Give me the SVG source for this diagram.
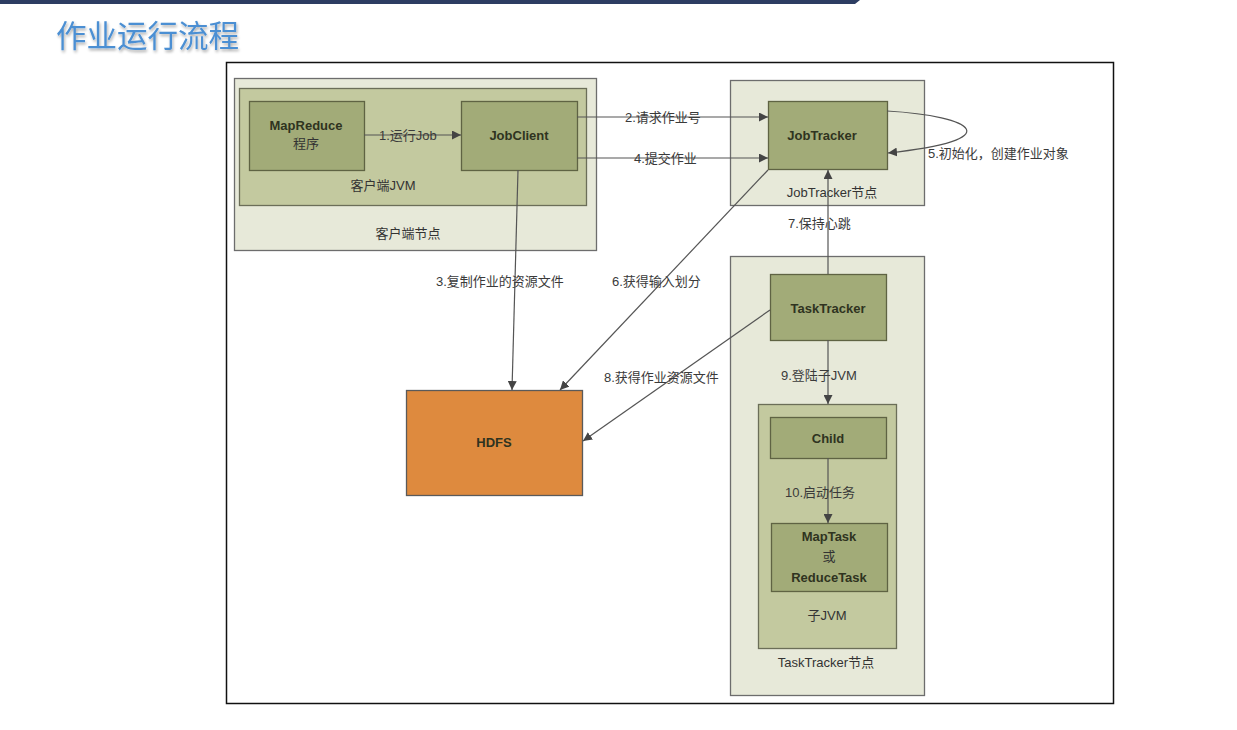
<svg xmlns="http://www.w3.org/2000/svg" width="1237" height="730" viewBox="0 0 1237 730">
  <style>
    .t { font-family: "Liberation Sans", "Noto Sans CJK SC", sans-serif; font-size: 13px; fill: #333; }
    .b { font-weight: bold; fill: #2f3320; }
    .tc { text-anchor: middle; }
    .lbl { font-family: "Liberation Sans", "Noto Sans CJK SC", sans-serif; font-size: 13px; fill: #3a3a3a; }
    .outer { fill: #e7e9d9; stroke: #6d6d6d; stroke-width: 1.3; }
    .jvm { fill: #c3c99f; stroke: #6b6e58; stroke-width: 1.3; }
    .box { fill: #a2ab78; stroke: #5f6343; stroke-width: 1.3; }
    .edge { fill: none; stroke: #555; stroke-width: 1.2; }
  </style>
  <defs>
    <marker id="arr" viewBox="0 0 10 10" refX="10" refY="5" markerWidth="9" markerHeight="9" markerUnits="userSpaceOnUse" orient="auto">
      <path d="M0,0 L10,5 L0,10 z" fill="#444"/>
    </marker>
    <filter id="soft" x="-5%" y="-20%" width="110%" height="140%">
      <feGaussianBlur in="SourceAlpha" stdDeviation="1.5"/>
      <feOffset dx="1" dy="2"/>
      <feComponentTransfer><feFuncA type="linear" slope="0.35"/></feComponentTransfer>
      <feMerge><feMergeNode/><feMergeNode in="SourceGraphic"/></feMerge>
    </filter>
  </defs>

  <rect width="1237" height="730" fill="#ffffff"/>

  <!-- header bar -->
  <path d="M0,0 H860 L855,4 H0 z" fill="#2d3d62"/>

  <!-- title -->
  <text x="56" y="47" font-family="'Noto Sans CJK SC', sans-serif" font-size="30.5" fill="#4b8fd3" filter="url(#soft)">作业运行流程</text>

  <!-- frame -->
  <rect x="226.5" y="62.5" width="887" height="641" fill="#ffffff" stroke="#111" stroke-width="1.5"/>

  <!-- client node -->
  <g id="client-node">
    <rect class="outer" x="234.5" y="78.5" width="362" height="172"/>
    <text class="t tc" x="408" y="238">客户端节点</text>
  </g>
  <g id="client-jvm">
    <rect class="jvm" x="239.5" y="88.5" width="347" height="117"/>
    <text class="t tc" x="383" y="190">客户端JVM</text>
  </g>
  <g id="mapreduce">
    <rect class="box" x="249.5" y="101.5" width="115" height="69"/>
    <text class="t tc b" x="306" y="130">MapReduce</text>
    <text class="t tc" x="306" y="148">程序</text>
  </g>
  <g id="jobclient">
    <rect class="box" x="461.5" y="101.5" width="116" height="69"/>
    <text class="t tc b" x="519" y="140">JobClient</text>
  </g>

  <!-- jobtracker node -->
  <g id="jobtracker-node">
    <rect class="outer" x="730.5" y="80.5" width="194" height="125"/>
    <text class="t tc" x="832" y="197">JobTracker节点</text>
  </g>
  <g id="jobtracker">
    <rect class="box" x="768.5" y="101.5" width="119" height="68"/>
    <text class="t tc b" x="822" y="140">JobTracker</text>
  </g>

  <!-- tasktracker node -->
  <g id="tasktracker-node">
    <rect class="outer" x="730.5" y="256.5" width="194" height="439"/>
    <text class="t tc" x="826" y="667">TaskTracker节点</text>
  </g>
  <g id="tasktracker">
    <rect class="box" x="770.5" y="274.5" width="116" height="66"/>
    <text class="t tc b" x="828" y="313">TaskTracker</text>
  </g>
  <g id="child-jvm">
    <rect class="jvm" x="758.5" y="404.5" width="138" height="244"/>
    <text class="t tc" x="827" y="620">子JVM</text>
  </g>
  <g id="child">
    <rect class="box" x="770.5" y="417.5" width="116" height="41"/>
    <text class="t tc b" x="828" y="443">Child</text>
  </g>
  <g id="task">
    <rect class="box" x="771.5" y="523.5" width="116" height="68"/>
    <text class="t tc b" x="829" y="541">MapTask</text>
    <text class="t tc" x="829" y="561">或</text>
    <text class="t tc b" x="829" y="582">ReduceTask</text>
  </g>

  <!-- hdfs -->
  <g id="hdfs">
    <rect x="406.5" y="390.5" width="176" height="105" fill="#de8a3e" stroke="#5a5a5a" stroke-width="1.3"/>
    <text class="t tc b" x="494" y="447">HDFS</text>
  </g>

  <!-- connectors -->
  <g id="connectors">
    <line class="edge" x1="364" y1="135" x2="461" y2="135" marker-end="url(#arr)"/>
    <line class="edge" x1="577" y1="117" x2="768" y2="117" marker-end="url(#arr)"/>
    <line class="edge" x1="577" y1="158" x2="768" y2="158" marker-end="url(#arr)"/>
    <path class="edge" d="M887,111 C975,116 1010,140 888,153" marker-end="url(#arr)"/>
    <line class="edge" x1="518" y1="170" x2="512" y2="390" marker-end="url(#arr)"/>
    <line class="edge" x1="768" y1="170" x2="560" y2="390" marker-end="url(#arr)"/>
    <line class="edge" x1="828" y1="274" x2="828" y2="170" marker-end="url(#arr)"/>
    <line class="edge" x1="770" y1="310" x2="583" y2="441" marker-end="url(#arr)"/>
    <line class="edge" x1="828" y1="340" x2="828" y2="404" marker-end="url(#arr)"/>
    <line class="edge" x1="828" y1="458" x2="828" y2="523" marker-end="url(#arr)"/>
  </g>

  <!-- connector labels -->
  <g id="labels">
    <text class="lbl" x="379" y="140">1.运行Job</text>
    <text class="lbl" x="625" y="122">2.请求作业号</text>
    <text class="lbl" x="634" y="163">4.提交作业</text>
    <text class="lbl" x="928" y="158">5.初始化，创建作业对象</text>
    <text class="lbl" x="436" y="286">3.复制作业的资源文件</text>
    <text class="lbl" x="612" y="286">6.获得输入划分</text>
    <text class="lbl" x="788" y="228">7.保持心跳</text>
    <text class="lbl" x="604" y="382">8.获得作业资源文件</text>
    <text class="lbl" x="781" y="380">9.登陆子JVM</text>
    <text class="lbl" x="785" y="497">10.启动任务</text>
  </g>
</svg>
